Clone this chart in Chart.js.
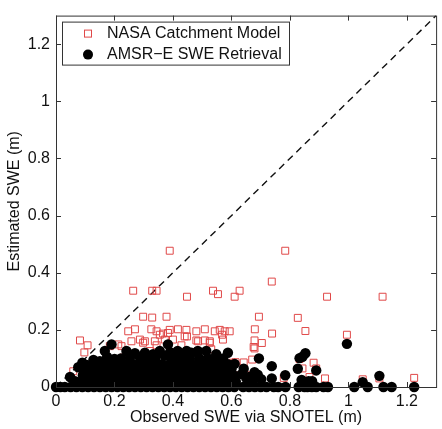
<!DOCTYPE html>
<html>
<head>
<meta charset="utf-8">
<script src="https://cdn.jsdelivr.net/npm/chart.js@4.4.1/dist/chart.umd.min.js"></script>
<style>
  html, body { margin: 0; padding: 0; background: #fff; }
  #wrap { width: 442px; height: 429px; }
</style>
</head>
<body>
<div id="wrap"><canvas id="chart" width="442" height="429"></canvas></div>
<script>
// axis ticks
const xTicks = [0, 0.2, 0.4, 0.6, 0.8, 1, 1.2];
const yTicks = [0, 0.2, 0.4, 0.6, 0.8, 1, 1.2];
const diag = [0, 1.3];

// NASA Catchment Model (red squares)
const nasaX = [0.389, 0.784, 0.264, 0.329, 0.344, 0.448, 0.537, 0.554, 0.611, 0.628,
  0.738, 0.927, 1.117, 0.298, 0.329, 0.378, 0.694, 0.827, 0.270, 0.247,
  0.326, 0.344, 0.366, 0.383, 0.389, 0.417, 0.446, 0.448, 0.480, 0.509,
  0.543, 0.560, 0.577, 0.594, 0.568, 0.680, 0.853, 0.739, 0.995, 0.304,
  0.344, 0.372, 0.429, 0.480, 0.509, 0.526, 0.679, 0.704, 0.676, 0.679,
  0.082, 0.108, 0.097, 0.059, 0.184, 0.213, 0.642, 0.671, 0.881, 0.920,
  0.779, 0.867, 1.049, 1.225, 1.106, 0.548, 0.258, 0.287, 0.298, 0.224,
  0.338, 0.355, 0.440, 0.486, 0.526, 0.571, 0.400, 0.321, 0.469, 0.531,
  0.560, 0.651, 0.230, 0.139, 0.110, 0.604, 0.833, 0.843, 0.890, 0.625,
  0.660, 0.614];
const nasaY = [0.477, 0.477, 0.337, 0.337, 0.337, 0.316, 0.337, 0.325, 0.316, 0.337,
  0.369, 0.316, 0.316, 0.246, 0.243, 0.246, 0.246, 0.242, 0.202, 0.195,
  0.202, 0.195, 0.187, 0.189, 0.200, 0.202, 0.200, 0.177, 0.195, 0.202,
  0.195, 0.200, 0.195, 0.195, 0.183, 0.202, 0.196, 0.187, 0.183, 0.160,
  0.146, 0.166, 0.146, 0.163, 0.163, 0.155, 0.163, 0.154, 0.140, 0.135,
  0.163, 0.146, 0.121, 0.055, 0.143, 0.149, 0.086, 0.096, 0.085, 0.030,
  0.032, 0.035, 0.027, 0.032, 0.030, 0.081, 0.160, 0.166, 0.155, 0.143,
  0.160, 0.183, 0.177, 0.160, 0.160, 0.166, 0.166, 0.126, 0.098, 0.132,
  0.092, 0.041, 0.103, 0.052, 0.030, 0.085, 0.098, 0.065, 0.065, 0.065,
  0.036, 0.087];

// AMSR-E SWE Retrieval (black dots)
const amsrX = [
  // y = 0 row
  0.000, 0.015, 0.030, 0.050, 0.070, 0.090, 0.110, 0.130, 0.150, 0.170,
  0.190, 0.210, 0.230, 0.250, 0.270, 0.290, 0.310, 0.330, 0.350, 0.370,
  0.390, 0.410, 0.430, 0.450, 0.470, 0.490, 0.510, 0.530, 0.550, 0.570,
  0.590, 0.610, 0.640, 0.660, 0.680, 0.700, 0.720, 0.745, 0.760, 0.785,
  0.830, 0.850, 0.860, 0.875, 0.890, 0.915, 0.930, 1.020, 1.066, 1.120,
  1.148, 1.225,
  // around 0.02
  0.065, 0.090, 0.115, 0.140, 0.165, 0.190, 0.215, 0.240, 0.265, 0.290,
  0.315, 0.340, 0.365, 0.390, 0.415, 0.440, 0.465, 0.490, 0.515, 0.540,
  0.565, 0.590, 0.615, 0.651, 0.673, 0.702, 0.840, 0.864, 0.876, 1.049,
  // around 0.04
  0.048, 0.092, 0.118, 0.142, 0.168, 0.193, 0.218, 0.243, 0.268, 0.293,
  0.318, 0.343, 0.368, 0.393, 0.418, 0.443, 0.468, 0.493, 0.518, 0.543,
  0.568, 0.593, 0.612, 0.690, 0.738, 0.784, 1.106, 0.635, 0.660,
  // around 0.06
  0.100, 0.125, 0.150, 0.175, 0.200, 0.225, 0.250, 0.275, 0.300, 0.325,
  0.350, 0.375, 0.400, 0.425, 0.450, 0.475, 0.500, 0.525, 0.550, 0.575,
  0.600, 0.642, 0.679, 0.827, 0.890,
  // around 0.08
  0.076, 0.105, 0.130, 0.160, 0.185, 0.210, 0.235, 0.262, 0.288, 0.312,
  0.338, 0.362, 0.388, 0.412, 0.438, 0.462, 0.488, 0.512, 0.538, 0.562,
  0.588, 0.611, 0.738, 0.090,
  // around 0.1
  0.150, 0.200, 0.222, 0.253, 0.287, 0.312, 0.340, 0.372, 0.400, 0.430,
  0.458, 0.490, 0.520, 0.550, 0.572, 0.694, 0.833, 0.843, 0.128, 0.175,
  // around 0.12
  0.167, 0.241, 0.304, 0.332, 0.355, 0.416, 0.447, 0.463, 0.485, 0.514,
  0.548, 0.588, 0.853, 0.270, 0.390,
  // top
  0.190, 0.383, 0.995];
const amsrY = [
  0, 0, 0, 0, 0, 0, 0, 0, 0, 0,
  0, 0, 0, 0, 0, 0, 0, 0, 0, 0,
  0, 0, 0, 0, 0, 0, 0, 0, 0, 0,
  0, 0, 0, 0, 0, 0, 0, 0, 0, 0,
  0, 0, 0, 0, 0, 0, 0, 0, 0, 0,
  0, 0,
  0.020, 0.022, 0.018, 0.021, 0.019, 0.023, 0.020, 0.018, 0.022, 0.020,
  0.019, 0.021, 0.023, 0.018, 0.020, 0.022, 0.019, 0.021, 0.020, 0.018,
  0.022, 0.020, 0.019, 0.030, 0.018, 0.027, 0.025, 0.020, 0.020, 0.017,
  0.035, 0.041, 0.039, 0.042, 0.040, 0.038, 0.041, 0.043, 0.039, 0.040,
  0.042, 0.038, 0.041, 0.040, 0.043, 0.039, 0.041, 0.040, 0.038, 0.042,
  0.040, 0.041, 0.039, 0.043, 0.030, 0.041, 0.039, 0.045, 0.035,
  0.060, 0.062, 0.058, 0.061, 0.060, 0.059, 0.062, 0.060, 0.058, 0.061,
  0.060, 0.062, 0.059, 0.061, 0.060, 0.058, 0.062, 0.060, 0.061, 0.059,
  0.062, 0.064, 0.052, 0.064, 0.058,
  0.069, 0.077, 0.070, 0.081, 0.080, 0.082, 0.079, 0.081, 0.080, 0.078,
  0.082, 0.080, 0.079, 0.081, 0.080, 0.082, 0.079, 0.080, 0.081, 0.078,
  0.080, 0.081, 0.073, 0.085,
  0.090, 0.098, 0.100, 0.103, 0.103, 0.100, 0.101, 0.109, 0.100, 0.102,
  0.099, 0.101, 0.100, 0.098, 0.100, 0.100, 0.101, 0.106, 0.095, 0.105,
  0.126, 0.126, 0.120, 0.115, 0.126, 0.126, 0.126, 0.120, 0.126, 0.126,
  0.115, 0.120, 0.118, 0.118, 0.122,
  0.149, 0.149, 0.151];

const pts = (xs, ys) => xs.map((x, i) => ({ x: x, y: ys[i] }));

const FONT = 'Liberation Sans, Arial, Helvetica, sans-serif';
const RED = 'rgb(224, 72, 72)';

// box, inward ticks and legend, drawn by hand like MATLAB does
const frame = {
  id: 'frame',
  afterDatasetsDraw(chart) {
    const { ctx, chartArea: a, scales } = chart;
    ctx.save();
    ctx.strokeStyle = '#333';
    ctx.lineWidth = 1;
    ctx.strokeRect(a.left + 0.5, a.top + 0.5, a.right - a.left, a.bottom - a.top);
    ctx.beginPath();
    xTicks.forEach((v) => {
      const px = Math.round(scales.x.getPixelForValue(v)) + 0.5;
      ctx.moveTo(px, a.bottom); ctx.lineTo(px, a.bottom - 5);
      ctx.moveTo(px, a.top); ctx.lineTo(px, a.top + 5);
    });
    yTicks.forEach((v) => {
      const py = Math.round(scales.y.getPixelForValue(v)) + 0.5;
      ctx.moveTo(a.left, py); ctx.lineTo(a.left + 5, py);
      ctx.moveTo(a.right, py); ctx.lineTo(a.right - 5, py);
    });
    ctx.stroke();

    // legend
    const lx = a.left + 6, ly = a.top + 6;
    ctx.fillStyle = '#fff';
    ctx.fillRect(lx, ly, 227, 43);
    ctx.strokeRect(lx + 0.5, ly + 0.5, 227, 43);
    ctx.strokeStyle = RED;
    ctx.strokeRect(lx + 22.5, ly + 8.5, 7, 7);
    ctx.fillStyle = '#000';
    ctx.beginPath();
    ctx.arc(lx + 26, ly + 33, 5, 0, Math.PI * 2);
    ctx.fill();
    ctx.fillStyle = '#111';
    ctx.font = '16px ' + FONT;
    ctx.textBaseline = 'middle';
    ctx.fillText('NASA Catchment Model', lx + 45, ly + 12);
    ctx.fillText('AMSR\u2212E SWE Retrieval', lx + 45, ly + 33);
    ctx.restore();
  }
};

new Chart(document.getElementById('chart'), {
  type: 'scatter',
  data: {
    datasets: [
      {
        label: 'AMSR-E SWE Retrieval',
        data: pts(amsrX, amsrY),
        pointStyle: 'circle',
        pointRadius: 5.2,
        pointBorderWidth: 0,
        backgroundColor: '#000',
        borderColor: '#000',
        clip: false,
      },
      {
        label: 'NASA Catchment Model',
        data: pts(nasaX, nasaY),
        pointStyle: 'rect',
        pointRadius: 4.9,
        pointBorderWidth: 1,
        backgroundColor: 'rgba(0,0,0,0)',
        borderColor: RED,
        clip: false,
      },
      {
        type: 'line',
        label: '1:1',
        data: pts(diag, diag),
        borderColor: '#111',
        borderWidth: 1.4,
        borderDash: [7, 5],
        pointRadius: 0,
        fill: false,
      },
    ],
  },
  options: {
    responsive: false,
    animation: false,
    events: [],
    layout: { padding: { top: 6, right: 5, left: 0, bottom: 0 } },
    plugins: { legend: { display: false }, tooltip: { enabled: false } },
    scales: {
      x: {
        type: 'linear',
        min: 0,
        max: 1.3,
        afterBuildTicks: (s) => { s.ticks = xTicks.map((v) => ({ value: v })); },
        afterFit: (s) => { s.height = 42; },
        grid: { display: false, drawTicks: false },
        border: { display: false },
        ticks: { color: '#111', font: { family: FONT, size: 16 }, padding: 5, maxRotation: 0, callback: (v) => String(v) },
        title: { display: true, text: 'Observed SWE via SNOTEL (m)', color: '#111', font: { family: FONT, size: 16 }, padding: { top: 0, bottom: 2 } },
      },
      y: {
        type: 'linear',
        min: 0,
        max: 1.3,
        afterBuildTicks: (s) => { s.ticks = yTicks.map((v) => ({ value: v })); },
        afterFit: (s) => { s.width = 56; },
        grid: { display: false, drawTicks: false },
        border: { display: false },
        ticks: { color: '#111', font: { family: FONT, size: 16 }, padding: 6, callback: (v) => String(v) },
        title: { display: true, text: 'Estimated SWE (m)', color: '#111', font: { family: FONT, size: 16 }, padding: { top: 5, bottom: 0 } },
      },
    },
  },
  plugins: [frame],
});
</script>
</body>
</html>
